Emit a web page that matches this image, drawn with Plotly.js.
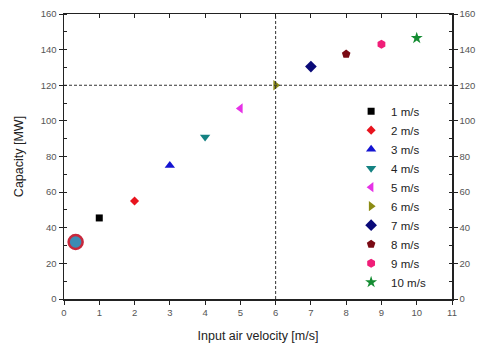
<!DOCTYPE html>
<html><head><meta charset="utf-8">
<script src="https://cdn.plot.ly/plotly-3.0.1.min.js"></script>
<style>body{margin:0;background:#fff}#c{width:477px;height:347px}</style>
</head><body><div id="c"></div>
<script>
const names = ["1 m/s","2 m/s","3 m/s","4 m/s","5 m/s","6 m/s","7 m/s","8 m/s","9 m/s","10 m/s"];
const velocity = [1,2,3,4,5,6,7,8,9,10];
const capacity = [45.5,55,75,91,107,120,130.5,137.5,143,146.5];
const symbols = ["square","diamond","triangle-up","triangle-down","triangle-left","triangle-right","diamond","pentagon","hexagon","star"];
const colors = ["#000000","#e8141e","#1414d2","#148282","#e632e6","#8c8c14","#0a0a78","#7a0a14","#f01e78","#148c32"];
const sizes = [7,7,9,9,9,9,9,9,9,9];
const highlightX = [0.33], highlightY = [32];
const refX = 6, refY = 120;

const traces = names.map((n,i)=>({
  type:"scatter", mode:"markers", name:n,
  x:[velocity[i]], y:[capacity[i]],
  marker:{symbol:symbols[i], color:colors[i], size:sizes[i], line:{width:0}}
}));
traces.push({type:"scatter",mode:"markers",x:highlightX,y:highlightY,showlegend:false,
  marker:{symbol:"circle",size:14,color:"#3c8cb4",line:{color:"#c8283c",width:2.5}}});
traces.push({type:"scatter",mode:"lines",x:[refX,refX],y:[0,160],showlegend:false,
  line:{color:"#333",width:1,dash:"3px,2px"},hoverinfo:"skip"});
traces.push({type:"scatter",mode:"lines",x:[0,11],y:[refY,refY],showlegend:false,
  line:{color:"#333",width:1,dash:"3px,2px"},hoverinfo:"skip"});
traces.push({type:"scatter",mode:"markers",x:[0],y:[0],xaxis:"x2",yaxis:"y2",showlegend:false,
  marker:{opacity:0},hoverinfo:"skip"});

const ff = "Arial, Liberation Sans, sans-serif";
const tf = {family:ff, size:9.5, color:"#555"};
const layout = {
  width:477, height:347,
  margin:{l:64,r:25,t:14,b:48},
  paper_bgcolor:"#fff", plot_bgcolor:"#fff",
  showlegend:true,
  legend:{x:0.74,y:0.71,xanchor:"left",yanchor:"top",font:{family:ff,size:11.5,color:"#222"},
    bgcolor:"rgba(255,255,255,0)",tracegroupgap:0,itemsizing:"trace",traceorder:"normal",itemwidth:30},
  xaxis:{range:[0,11],dtick:1,showgrid:false,zeroline:false,showline:true,linecolor:"#222",linewidth:1.5,
    ticks:"outside",ticklen:4,tickcolor:"#222",tickfont:tf,
    title:{text:"Input air velocity [m/s]",font:{family:ff,size:12.5,color:"#222"},standoff:14}},
  yaxis:{range:[0,160],dtick:20,showgrid:false,zeroline:false,showline:true,linecolor:"#222",linewidth:1.5,
    ticks:"outside",ticklen:4,tickcolor:"#222",tickfont:tf,
    minor:{dtick:10,ticks:"inside",ticklen:3,tickcolor:"#222"},
    title:{text:"Capacity [MW]",font:{family:ff,size:12.5,color:"#222"},standoff:14}},
  xaxis2:{range:[0,11],dtick:1,overlaying:"x",side:"top",showgrid:false,zeroline:false,showline:true,linecolor:"#222",linewidth:1.5,
    ticks:"inside",ticklen:4,tickcolor:"#222",showticklabels:false},
  yaxis2:{range:[0,160],dtick:20,overlaying:"y",side:"right",showgrid:false,zeroline:false,showline:true,linecolor:"#222",linewidth:1.5,
    ticks:"outside",ticklen:4,tickcolor:"#222",tickfont:tf,
    minor:{dtick:10,ticks:"inside",ticklen:3,tickcolor:"#222"}}
};
Plotly.newPlot("c",traces,layout,{staticPlot:true,displayModeBar:false});
</script></body></html>
